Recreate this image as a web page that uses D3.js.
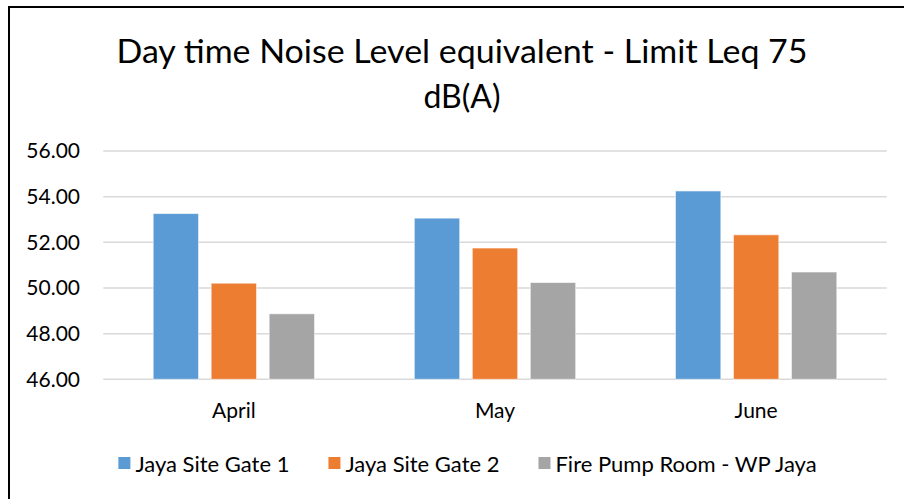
<!DOCTYPE html>
<html>
<head>
<meta charset="utf-8">
<script src="https://cdn.jsdelivr.net/npm/d3@7"></script>
<style>
  body { margin: 0; background: #fff; }
  text { font-family: Lato, "Open Sans", sans-serif; fill: #000; }
</style>
</head>
<body>
<script>
// chart data
const months = ["April", "May", "June"];
const seriesNames = ["Jaya Site Gate 1", "Jaya Site Gate 2", "Fire Pump Room - WP Jaya"];
const gate1 = [53.26, 53.06, 54.25];
const gate2 = [50.21, 51.75, 52.33];
const pumpRoom = [48.87, 50.24, 50.70];
const yTicks = [46, 48, 50, 52, 54, 56];
const titleLines = ["Day time Noise Level equivalent - Limit Leq 75", "dB(A)"];

const colors = ["#5B9BD5", "#ED7D31", "#A5A5A5"];
const width = 904, height = 499;

const svg = d3.select("body").append("svg")
  .attr("width", width)
  .attr("height", height);

// chart frame (only left and top edges show in the picture)
svg.append("path")
  .attr("d", `M9,${height} V7 H${width}`)
  .attr("fill", "none")
  .attr("stroke", "#000")
  .attr("stroke-width", 2);

// title
const title = svg.append("g").selectAll("text")
  .data(titleLines)
  .join("text")
  .attr("x", 462)
  .attr("y", (d, i) => 63 + i * 45)
  .attr("text-anchor", "middle")
  .attr("font-size", 32)
  .text(d => d);
// Calibri is narrower than Lato, so fit the first line to the picture's width
title.filter((d, i) => i === 0)
  .attr("textLength", 691)
  .attr("lengthAdjust", "spacingAndGlyphs");

// scales
const x0 = d3.scaleBand()
  .domain(months)
  .range([103.3, 886.7])
  .padding(0);

const x1 = d3.scaleBand()
  .domain(d3.range(seriesNames.length))
  .range([0, x0.bandwidth()])
  .paddingInner(0.217)
  .paddingOuter(0.86);

const y = d3.scaleLinear()
  .domain([46, 56])
  .range([379.3, 151]);

// gridlines
svg.append("g").selectAll("line")
  .data(yTicks)
  .join("line")
  .attr("x1", x0.range()[0])
  .attr("x2", x0.range()[1])
  .attr("y1", d => y(d))
  .attr("y2", d => y(d))
  .attr("stroke", "#D9D9D9")
  .attr("stroke-width", 1.5);

// y axis labels
const yAxis = svg.append("g")
  .attr("transform", "translate(80,0)")
  .call(d3.axisLeft(y).tickValues(yTicks).tickFormat(d3.format(".2f")).tickSize(0).tickPadding(0));
yAxis.select(".domain").remove();
yAxis.selectAll("text")
  .attr("font-family", "Lato, 'Open Sans', sans-serif")
  .attr("font-size", 21)
  .attr("fill", "#000");

// x axis labels
const xAxis = svg.append("g")
  .attr("transform", `translate(0,${y(46)})`)
  .call(d3.axisBottom(x0).tickSize(0).tickPadding(24));
xAxis.select(".domain").remove();
xAxis.selectAll("text")
  .attr("font-family", "Lato, 'Open Sans', sans-serif")
  .attr("font-size", 21)
  .attr("fill", "#000");

// bars
const table = months.map((m, i) => ({ month: m, values: [gate1[i], gate2[i], pumpRoom[i]] }));

svg.append("g").selectAll("g")
  .data(table)
  .join("g")
  .attr("transform", d => `translate(${x0(d.month)},0)`)
  .selectAll("rect")
  .data(d => d.values.map((v, s) => ({ s, v })))
  .join("rect")
  .attr("x", d => x1(d.s))
  .attr("width", x1.bandwidth())
  .attr("y", d => y(d.v))
  .attr("height", d => y(46) - y(d.v))
  .attr("fill", d => colors[d.s])
  .attr("stroke", "#fff")
  .attr("stroke-opacity", 0.6)
  .attr("stroke-width", 1);

// legend
const legend = svg.append("g").attr("transform", "translate(0,464)");
const items = legend.selectAll("g")
  .data(seriesNames)
  .join("g");
items.append("rect")
  .attr("width", 12)
  .attr("height", 12)
  .attr("y", -7)
  .attr("fill", (d, i) => colors[i]);
items.append("text")
  .attr("x", 17)
  .attr("dy", "0.35em")
  .attr("font-size", 22)
  .text(d => d);

let pos = 0;
const offsets = [];
items.each(function () {
  offsets.push(pos);
  pos += this.getBBox().width + 39;
});
const total = pos - 39;
const startX = 467.5 - total / 2;
items.attr("transform", (d, i) => `translate(${startX + offsets[i]},0)`);
</script>
</body>
</html>
